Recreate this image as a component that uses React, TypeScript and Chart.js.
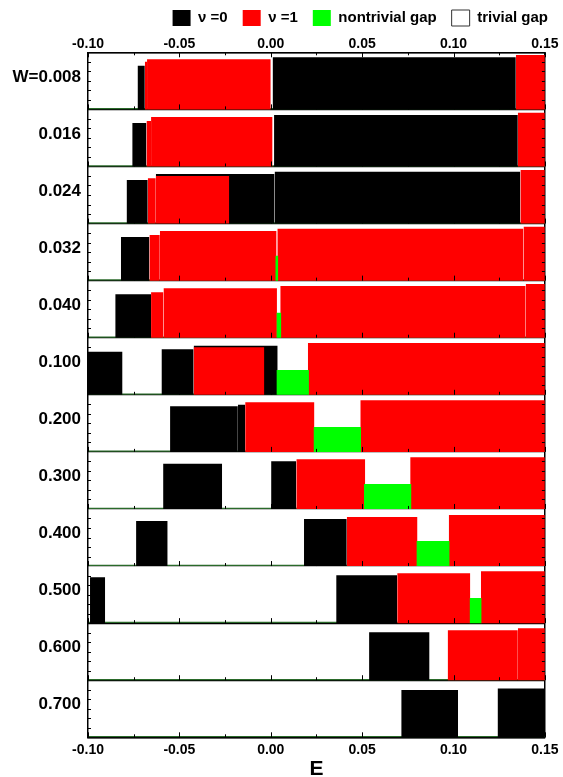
import React, { useEffect, useRef } from "react";
import { Chart, registerables } from "chart.js";

Chart.register(...registerables);

// kind, E start, E end, height (fraction of the panel height)
type Bar = [string, number, number, number];

const panelLabels = ["W=0.008", "0.016", "0.024", "0.032", "0.040", "0.100", "0.200", "0.300", "0.400", "0.500", "0.600", "0.700"];

const w008: Bar[] = [
  ["n0", -0.0729, -0.0689, 0.766],
  ["n1", -0.0689, -0.0677, 0.836],
  ["n1", -0.0677, 0.0, 0.878],
  ["n0", 0.001, 0.1341, 0.913],
  ["n1", 0.1341, 0.15, 0.953],
];
const w016: Bar[] = [
  ["n0", -0.0758, -0.068, 0.762],
  ["n1", -0.068, -0.0655, 0.797],
  ["n1", -0.0655, 0.001, 0.867],
  ["n0", 0.0018, 0.1352, 0.902],
  ["n1", 0.1352, 0.15, 0.943],
];
const w024: Bar[] = [
  ["n0", -0.0789, -0.0673, 0.762],
  ["n0", -0.0629, 0.0021, 0.867],
  ["n1", -0.0673, -0.0629, 0.792],
  ["n1", -0.0629, -0.0227, 0.832],
  ["n0", 0.0021, 0.1366, 0.907],
  ["n1", 0.1366, 0.15, 0.937],
];
const w032: Bar[] = [
  ["n0", -0.082, -0.0664, 0.764],
  ["n1", -0.0664, -0.0607, 0.799],
  ["n1", -0.0607, 0.0032, 0.869],
  ["n1", 0.0036, 0.1383, 0.909],
  ["n1", 0.1383, 0.15, 0.944],
  ["gap", 0.0025, 0.0041, 0.436],
];
const w040: Bar[] = [
  ["n0", -0.0851, -0.0655, 0.76],
  ["n1", -0.0655, -0.0587, 0.795],
  ["n1", -0.0587, 0.0034, 0.865],
  ["n1", 0.0052, 0.1395, 0.906],
  ["n1", 0.1395, 0.15, 0.941],
  ["gap", 0.0031, 0.0058, 0.438],
];
const w100: Bar[] = [
  ["n0", -0.1, -0.0811, 0.755],
  ["n0", -0.0598, -0.0422, 0.797],
  ["n0", -0.0422, 0.0038, 0.86],
  ["n1", -0.0422, -0.0035, 0.832],
  ["n1", 0.0203, 0.15, 0.907],
  ["gap", 0.0031, 0.0209, 0.434],
];
const w200: Bar[] = [
  ["n0", -0.0551, -0.018, 0.799],
  ["n0", -0.018, -0.014, 0.827],
  ["n1", -0.014, 0.0239, 0.869],
  ["n1", 0.049, 0.15, 0.904],
  ["gap", 0.0234, 0.0494, 0.436],
];
const w300: Bar[] = [
  ["n0", -0.0589, -0.0266, 0.794],
  ["n0", 0.0002, 0.014, 0.836],
  ["n1", 0.014, 0.0517, 0.871],
  ["n1", 0.0763, 0.15, 0.906],
  ["gap", 0.051, 0.077, 0.438],
];
const w400: Bar[] = [
  ["n0", -0.0737, -0.0564, 0.788],
  ["n0", 0.0182, 0.0416, 0.823],
  ["n1", 0.0416, 0.0803, 0.858],
  ["n1", 0.0974, 0.15, 0.893],
  ["gap", 0.0797, 0.0979, 0.438],
];
const w500: Bar[] = [
  ["n0", -0.0989, -0.0906, 0.802],
  ["n0", 0.0358, 0.0692, 0.837],
  ["n1", 0.0692, 0.1092, 0.872],
  ["n1", 0.115, 0.15, 0.907],
  ["gap", 0.1088, 0.1154, 0.44],
];
const w600: Bar[] = [
  ["n0", 0.0538, 0.0869, 0.839],
  ["n1", 0.0968, 0.1352, 0.874],
  ["n1", 0.1352, 0.15, 0.909],
];
const w700: Bar[] = [
  ["n0", 0.0714, 0.1025, 0.829],
  ["n0", 0.1241, 0.15, 0.857],
];

const panels: Bar[][] = [w008, w016, w024, w032, w040, w100, w200, w300, w400, w500, w600, w700];

const xTickValues = [-0.1, -0.05, 0, 0.05, 0.1, 0.15];
const xTickLabels = ["-0.10", "-0.05", "0.00", "0.05", "0.10", "0.15"];
const xMinorTicks = [-0.075, -0.025, 0.025, 0.075, 0.125];

const legendLabels = ["\u03bd =0", "\u03bd =1", "nontrivial gap", "trivial gap"];
const legendKinds = ["n0", "n1", "gap", "trivial"];

// ---- styles ----
const FONT = "'Liberation Sans', Arial, Helvetica, sans-serif";
const COLORS: Record<string, string> = {
  n0: "#000000",
  n1: "#ff0000",
  gap: "#00ff00",
  trivial: "#ffffff",
};
const BASELINE_COLOR = "#2a6a2a";
const LABEL_POS = 0.43; // where the W label sits inside a panel (0 = top, 1 = bottom)

const innerTicks = {
  id: "innerTicks",
  afterDraw(chart: any) {
    const { ctx, chartArea, scales } = chart;
    const xs = scales.x;
    const ys = scales.y;
    ctx.save();
    ctx.strokeStyle = "#000";
    ctx.lineWidth = 1;
    const marks: [number, number][] = [
      ...xTickValues.map((v) => [v, 5] as [number, number]),
      ...xMinorTicks.map((v) => [v, 3] as [number, number]),
    ];
    ctx.beginPath();
    for (let i = 1; i <= panels.length; i++) {
      const py = ys.getPixelForValue(i);
      for (const [v, len] of marks) {
        const px = Math.round(xs.getPixelForValue(v)) + 0.5;
        ctx.moveTo(px, py);
        ctx.lineTo(px, py - len);
      }
    }
    const py0 = ys.getPixelForValue(0);
    for (const [v, len] of marks) {
      const px = Math.round(xs.getPixelForValue(v)) + 0.5;
      ctx.moveTo(px, py0);
      ctx.lineTo(px, py0 + len);
    }
    for (let i = 0; i < panels.length; i++) {
      for (let k = 1; k < 6; k++) {
        const py = Math.round(ys.getPixelForValue(i + k / 6)) + 0.5;
        ctx.moveTo(chartArea.left, py);
        ctx.lineTo(chartArea.left + 3, py);
        ctx.moveTo(chartArea.right, py);
        ctx.lineTo(chartArea.right - 3, py);
      }
    }
    ctx.stroke();
    ctx.restore();
  },
};

export default function App() {
  const ref = useRef<HTMLCanvasElement | null>(null);

  useEffect(() => {
    if (!ref.current) return;
    const datasets: any[] = [];
    panels.forEach((bars, i) => {
      const base = i + 1;
      datasets.push({
        type: "line",
        data: [
          { x: -0.1, y: base - 0.012 },
          { x: 0.15, y: base - 0.012 },
        ],
        borderColor: BASELINE_COLOR,
        borderWidth: 1.2,
        pointRadius: 0,
        fill: false,
      });
      bars.forEach(([kind, e0, e1, h]) => {
        datasets.push({
          type: "line",
          data: [
            { x: e0, y: base },
            { x: e0, y: base - h },
            { x: e1, y: base - h },
            { x: e1, y: base },
          ],
          borderColor: "rgba(0,0,0,0)",
          borderWidth: 0,
          backgroundColor: COLORS[kind],
          fill: { value: base },
          pointRadius: 0,
          tension: 0,
        });
      });
    });
    datasets.forEach((d, j) => {
      d.order = datasets.length - j;
    });

    const labelFont = { family: FONT, size: 14, weight: "bold" as const };

    const chart = new Chart(ref.current, {
      type: "line",
      data: { datasets },
      plugins: [innerTicks],
      options: {
        animation: false,
        responsive: true,
        maintainAspectRatio: false,
        layout: { padding: { top: -5, left: 0, right: 0, bottom: 0 } },
        plugins: {
          tooltip: { enabled: false },
          legend: {
            display: true,
            position: "top",
            align: "end",
            onClick: () => {},
            labels: {
              boxWidth: 18,
              boxHeight: 16,
              padding: 15,
              color: "#000",
              font: { family: FONT, size: 15, weight: "bold" },
              generateLabels: () =>
                legendLabels.map((t, i) => ({
                  text: t,
                  fillStyle: COLORS[legendKinds[i]],
                  strokeStyle: legendKinds[i] === "trivial" ? "#333" : COLORS[legendKinds[i]],
                  lineWidth: legendKinds[i] === "trivial" ? 1 : 0,
                  hidden: false,
                  fontColor: "#000",
                  datasetIndex: i,
                })),
            },
          },
        },
        scales: {
          x: {
            type: "linear",
            position: "bottom",
            min: -0.1,
            max: 0.15,
            z: 1,
            afterBuildTicks: (s: any) => {
              s.ticks = xTickValues.map((v) => ({ value: v }));
            },
            afterFit: (s: any) => {
              s.height = 39.7;
            },
            ticks: {
              callback: (_v: any, idx: number) => xTickLabels[idx],
              font: labelFont,
              color: "#000",
              padding: 4.5,
              maxRotation: 0,
              autoSkip: false,
            },
            grid: { display: false, drawTicks: false },
            border: { display: true, color: "#000", width: 1.5 },
            title: {
              display: true,
              text: "E",
              color: "#000",
              font: { family: FONT, size: 21, weight: "bold", lineHeight: 1 },
              padding: { top: 0, bottom: -3 },
            },
          },
          x2: {
            type: "linear",
            position: "top",
            min: -0.1,
            max: 0.15,
            z: 1,
            afterBuildTicks: (s: any) => {
              s.ticks = xTickValues.map((v) => ({ value: v }));
            },
            afterFit: (s: any) => {
              s.height = 16.3;
            },
            ticks: {
              callback: (_v: any, idx: number) => xTickLabels[idx],
              font: labelFont,
              color: "#000",
              padding: 0,
              maxRotation: 0,
              autoSkip: false,
            },
            grid: { display: false, drawTicks: false },
            border: { display: true, color: "#000", width: 1.5 },
          },
          y: {
            type: "linear",
            position: "left",
            min: 0,
            max: 12,
            reverse: true,
            z: 1,
            afterBuildTicks: (s: any) => {
              s.ticks = panelLabels.map((_l, i) => ({ value: i + LABEL_POS }));
            },
            afterFit: (s: any) => {
              s.width = 88;
            },
            ticks: {
              callback: (_v: any, idx: number) => panelLabels[idx],
              font: { family: FONT, size: 17, weight: "bold" },
              color: "#000",
              padding: 7,
              autoSkip: false,
            },
            grid: { display: false, drawTicks: false },
            border: { display: true, color: "#000", width: 1.5 },
          },
          yg: {
            type: "linear",
            position: "right",
            min: 0,
            max: 12,
            reverse: true,
            z: 1,
            afterBuildTicks: (s: any) => {
              s.ticks = [...panelLabels.map((_l, i) => i), panelLabels.length].map((v) => ({ value: v }));
            },
            afterFit: (s: any) => {
              s.width = 16.3;
            },
            ticks: { display: false },
            grid: { display: true, color: "#000", lineWidth: 1.2, drawTicks: false },
            border: { display: true, color: "#000", width: 1.5 },
          },
        },
      } as any,
    });
    return () => chart.destroy();
  }, []);

  return (
    <div style={{ position: "absolute", left: 0, top: 0, width: 563, height: 777, background: "#fff" }}>
      <canvas ref={ref} />
    </div>
  );
}
